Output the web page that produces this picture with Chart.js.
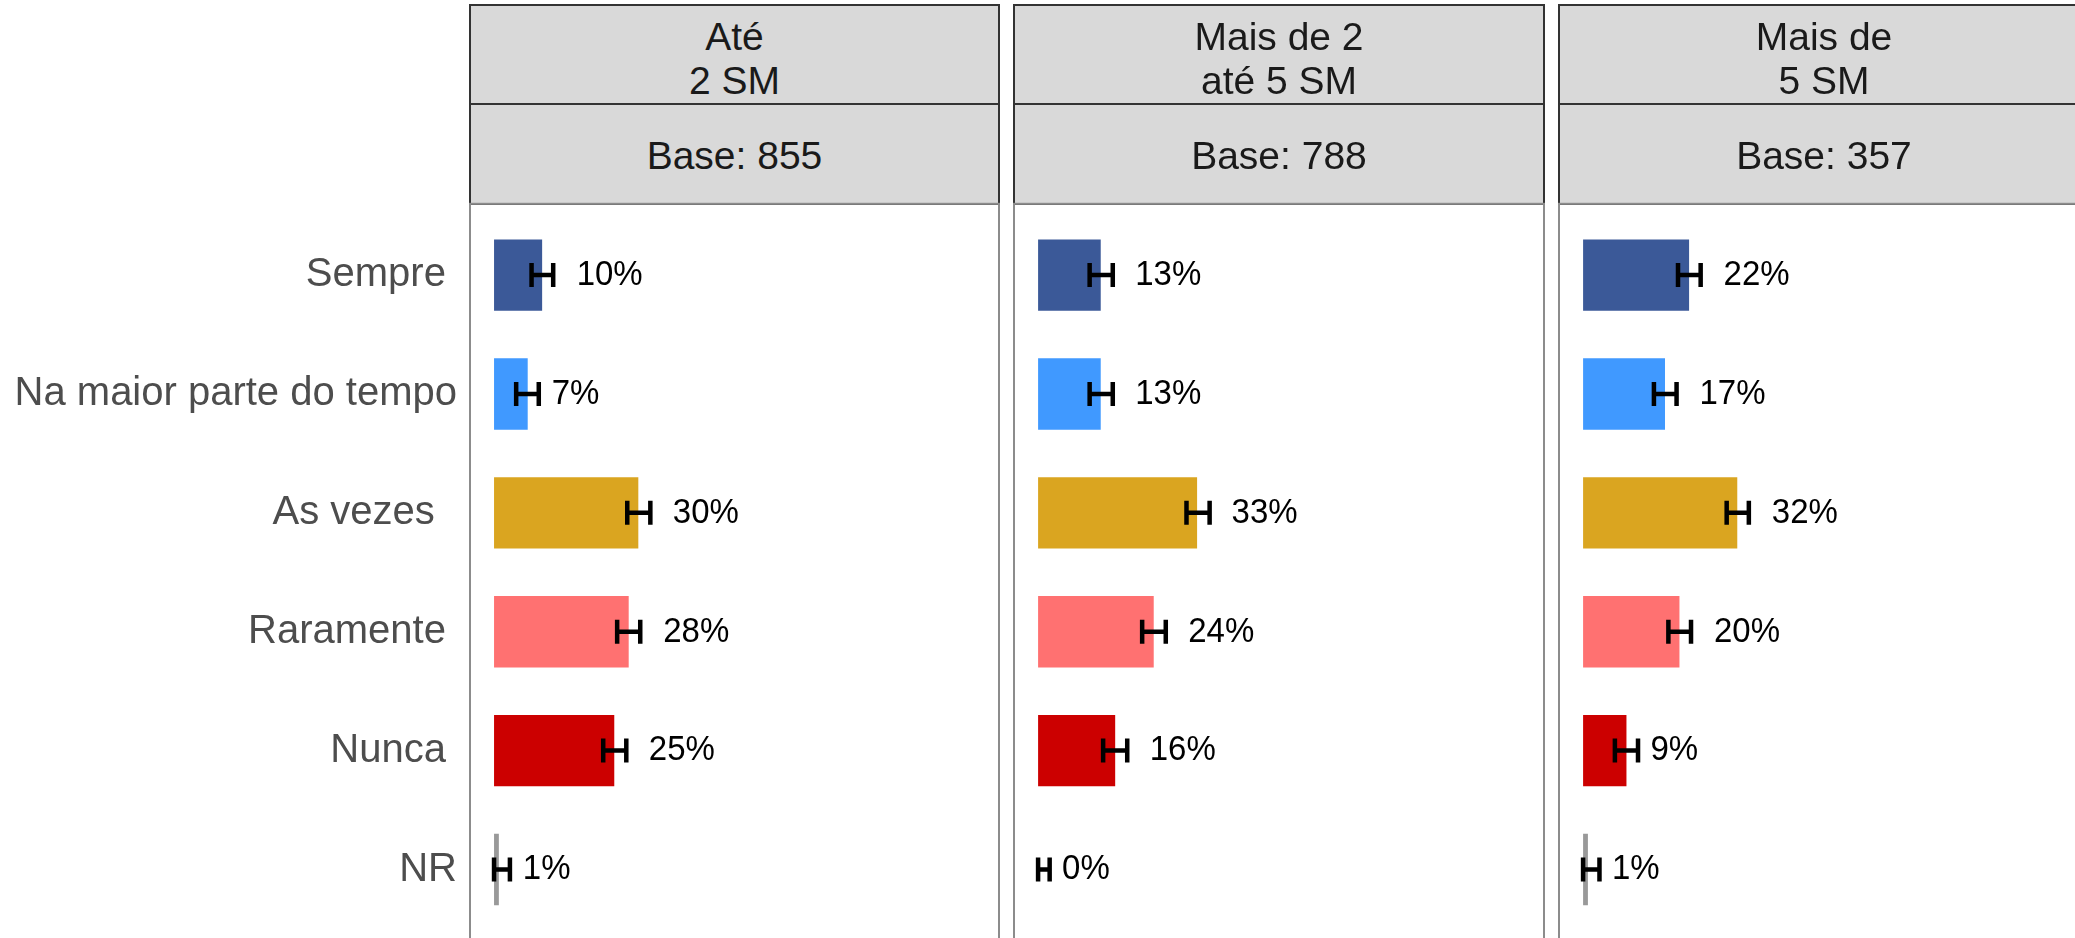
<!DOCTYPE html>
<html><head><meta charset="utf-8">
<script src="https://cdn.jsdelivr.net/npm/chart.js@4.4.0/dist/chart.umd.min.js"></script>
<style>
html,body{margin:0;padding:0;width:2075px;height:938px;overflow:hidden;background:#fff;}
canvas{position:absolute;top:0;}
.strip{position:absolute;box-sizing:border-box;background:#d9d9d9;border:2px solid #333;}
.stext{position:absolute;text-align:center;font-family:"Liberation Sans",Arial,sans-serif;font-size:39px;line-height:44px;color:#1a1a1a;white-space:pre;}
</style></head><body>
<script>
// ---- data ----
const categories = ["Sempre ", "Na maior parte do tempo", "As vezes  ", "Raramente ", "Nunca ", "NR"];
const panelTitles = [["Até", "2 SM"], ["Mais de 2", "até 5 SM"], ["Mais de", "5 SM"]];
const panelBases = [855, 788, 357];

const valuesAte2 = [10, 7, 30, 28, 25, 1];
const values2a5 = [13, 13, 33, 24, 16, 0];
const valuesMais5 = [22, 17, 32, 20, 9, 1];

const lowAte2 = [7.8, 4.6, 27.7, 25.6, 22.7, 0];
const highAte2 = [12.3, 9.3, 32.5, 30.4, 27.5, 3.3];
const low2a5 = [10.7, 10.7, 30.8, 21.6, 13.5, 0];
const high2a5 = [15.5, 15.5, 35.6, 26.5, 18.5, 2.4];
const lowMais5 = [19.7, 14.7, 29.8, 17.7, 6.6, 0];
const highMais5 = [24.4, 19.4, 34.4, 22.4, 11.4, 3.4];

// ---- styles ----
const barColors = ["#3b5998", "#4099ff", "#daa520", "#ff7171", "#cc0000", "#999999"];
const FONT = '"Liberation Sans", Arial, sans-serif';

const panels = [
  {values: valuesAte2, low: lowAte2, high: highAte2, left: 470, right: 999, canvasLeft: 0, canvasWidth: 1010, showY: true},
  {values: values2a5, low: low2a5, high: high2a5, left: 1014, right: 1544, canvasLeft: 1004, canvasWidth: 550, showY: false},
  {values: valuesMais5, low: lowMais5, high: highMais5, left: 1559, right: 2089, canvasLeft: 1549, canvasWidth: 550, showY: false}
];

const CANVAS_H = 945;
const PANEL_TOP = 203.8, PANEL_BOTTOM = 940.8;
const EXPAND = 0.6; // discrete expansion in category units
const nCat = categories.length;
const step = (PANEL_BOTTOM - PANEL_TOP) / (nCat - 1 + 2 * EXPAND);
const areaTop = PANEL_TOP + (EXPAND - 0.5) * step;
const areaBottom = PANEL_BOTTOM - (EXPAND - 0.5) * step;

function makeDecor(values, low, high) {
  return {
    id: 'decor',
    afterDatasetsDraw(chart) {
      const ctx = chart.ctx, xs = chart.scales.x, ys = chart.scales.y, a = chart.chartArea;
      const st = (a.bottom - a.top) / nCat;
      ctx.save();
      ctx.strokeStyle = '#000';
      ctx.lineWidth = 4.5;
      ctx.lineCap = 'butt';
      low.forEach((lo, i) => {
        const y = ys.getPixelForValue(i);
        const x1 = xs.getPixelForValue(lo), x2 = xs.getPixelForValue(high[i]);
        const h = 12;
        ctx.beginPath();
        ctx.moveTo(x1, y); ctx.lineTo(x2, y);
        ctx.moveTo(x1, y - h); ctx.lineTo(x1, y + h);
        ctx.moveTo(x2, y - h); ctx.lineTo(x2, y + h);
        ctx.stroke();
      });
      ctx.fillStyle = '#000';
      ctx.font = '33px ' + FONT;
      ctx.textBaseline = 'middle';
      ctx.textAlign = 'left';
      values.forEach((v, i) => {
        const off = String(v).length > 1 ? 34.5 : 24;
        const x = xs.getPixelForValue(v) + off, y = ys.getPixelForValue(i);
        ctx.save();
        ctx.translate(x, y);
        ctx.scale(1, 1.08);
        ctx.fillText(v + '%', 0, 0);
        ctx.restore();
      });
      ctx.strokeStyle = '#8c8c8c';
      ctx.lineWidth = 2;
      const ext = (EXPAND - 0.5) * st;
      ctx.strokeRect(a.left, a.top - ext, a.right - a.left, (a.bottom - a.top) + 2 * ext);
      ctx.restore();
    }
  };
}

panels.forEach((p, idx) => {
  // strips
  const L = p.left, R = p.right;
  const s1 = document.createElement('div');
  s1.className = 'strip';
  Object.assign(s1.style, {left: (L - 1) + 'px', width: (R - L + 2) + 'px', top: '4px', height: '101px'});
  document.body.appendChild(s1);
  const s2 = document.createElement('div');
  s2.className = 'strip';
  Object.assign(s2.style, {left: (L - 1) + 'px', width: (R - L + 2) + 'px', top: '103px', height: '102px'});
  document.body.appendChild(s2);
  const t1 = document.createElement('div');
  t1.className = 'stext';
  Object.assign(t1.style, {left: L + 'px', width: (R - L) + 'px', top: '15px'});
  t1.textContent = panelTitles[idx].join('\n');
  document.body.appendChild(t1);
  const t2 = document.createElement('div');
  t2.className = 'stext';
  Object.assign(t2.style, {left: L + 'px', width: (R - L) + 'px', top: '134px'});
  t2.textContent = 'Base: ' + panelBases[idx];
  document.body.appendChild(t2);

  // chart
  const cv = document.createElement('canvas');
  cv.width = p.canvasWidth;
  cv.height = CANVAS_H;
  cv.style.left = p.canvasLeft + 'px';
  cv.style.width = p.canvasWidth + 'px';
  cv.style.height = CANVAS_H + 'px';
  document.body.appendChild(cv);

  const padLeft = p.showY ? 0 : (L - p.canvasLeft);
  const padRight = p.canvasLeft + p.canvasWidth - R;

  new Chart(cv.getContext('2d'), {
    type: 'bar',
    data: {
      labels: categories,
      datasets: [{
        data: p.values,
        backgroundColor: barColors,
        borderWidth: 0,
        barPercentage: 0.6,
        categoryPercentage: 1
      }]
    },
    options: {
      indexAxis: 'y',
      responsive: false,
      maintainAspectRatio: false,
      animation: false,
      events: [],
      layout: {padding: {left: padLeft, right: padRight, top: areaTop, bottom: CANVAS_H - areaBottom}},
      plugins: {legend: {display: false}, tooltip: {enabled: false}},
      scales: {
        x: {type: 'linear', min: -5, max: 105, display: false},
        y: {
          type: 'category',
          offset: true,
          display: p.showY,
          grid: {display: false, drawTicks: false},
          border: {display: false},
          ticks: {font: {family: FONT, size: 40}, color: '#4d4d4d', padding: 13, autoSkip: false},
          afterFit: (s) => {
            if (p.showY) s.width = L - p.canvasLeft;
            s.paddingTop = 0; s.paddingBottom = 0;
          }
        }
      }
    },
    plugins: [makeDecor(p.values, p.low, p.high)]
  });
});
</script>
</body></html>
